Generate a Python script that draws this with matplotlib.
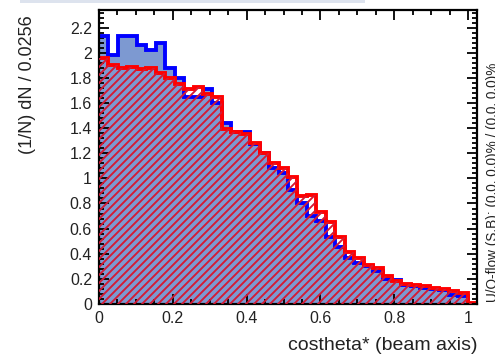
import numpy as np
import matplotlib
matplotlib.use("Agg")
import matplotlib.pyplot as plt
from matplotlib.patches import Rectangle
from matplotlib.lines import Line2D
from matplotlib.transforms import IdentityTransform

plt.rcParams['font.family'] = ['Liberation Sans', 'DejaVu Sans']

# 40 bins of width 0.0256 starting at 0
bin_width = 0.0256
edges = np.arange(41) * bin_width

signal = [2.13, 1.98, 2.13, 2.13, 2.06, 2.02, 2.08, 1.88, 1.80, 1.65,
          1.65, 1.71, 1.60, 1.44, 1.37, 1.37, 1.27, 1.20, 1.08, 1.04,
          0.91, 0.80, 0.70, 0.66, 0.53, 0.45, 0.37, 0.33, 0.30, 0.26,
          0.20, 0.19, 0.15, 0.14, 0.13, 0.12, 0.11, 0.07, 0.06, 0.003]

background = [1.96, 1.90, 1.88, 1.89, 1.87, 1.88, 1.84, 1.80, 1.75, 1.71,
              1.73, 1.67, 1.65, 1.39, 1.37, 1.35, 1.28, 1.20, 1.12, 1.08,
              1.01, 0.86, 0.87, 0.73, 0.65, 0.53, 0.41, 0.37, 0.31, 0.29,
              0.22, 0.18, 0.16, 0.15, 0.14, 0.13, 0.12, 0.10, 0.09, 0.005]

xlabel = 'costheta* (beam axis)'
ylabel = '(1/N) dN / %.4g' % bin_width
oflow_text = 'U/O-flow (S,B): (0.0, 0.0)% / (0.0, 0.0)%'

W, H = 495, 358
fig = plt.figure(figsize=(W / 100, H / 100), dpi=100)
ax = fig.add_axes([99 / W, 1 - 304 / H, 378 / W, 294 / H])

ax.set_xlim(0, 40 * bin_width)
ax.set_ylim(0, 2.34)

# signal: filled blue
ax.stairs(signal, edges, fill=True, facecolor='#7d99d1', linewidth=0)
# background: transparent area, hatched by hand (ROOT style /// hatch)
bg_area = ax.stairs(background, edges, fill=True, facecolor='none', linewidth=0)
for c in range(-400, 500, 8):
    hl = Line2D([0, W], [0 - c, W - c], transform=IdentityTransform(),
                color='#d41a34', linewidth=1.35)
    hl.set_clip_path(bg_area)
    fig.add_artist(hl)
# outlines
ax.stairs(signal, edges, color='#0000ff', linewidth=2.8, baseline=None, zorder=3)
ax.stairs(background, edges, color='#ff0000', linewidth=2.8, baseline=None, zorder=3)

ax.set_xticks([0, 0.2, 0.4, 0.6, 0.8, 1.0])
ax.set_xticklabels(['0', '0.2', '0.4', '0.6', '0.8', '1'])
ax.set_yticks(np.arange(0, 2.21, 0.2))
ax.set_yticklabels(['0', '0.2', '0.4', '0.6', '0.8', '1', '1.2', '1.4', '1.6', '1.8', '2', '2.2'])
ax.set_xticks(np.arange(0, 1.024, 0.05), minor=True)
ax.set_yticks(np.arange(0, 2.34, 0.04), minor=True)
ax.tick_params(which='both', direction='in', top=True, right=True, width=1.3,
               labelsize=11.5, colors='black', labelcolor='#222222')
ax.tick_params(which='major', length=7, pad=5)
ax.tick_params(which='minor', length=3.5)
for s in ax.spines.values():
    s.set_linewidth(1.6)
    s.set_zorder(4)

fig.text(477 / W, 1 - 346 / H, xlabel, ha='right', va='center', fontsize=14, color='#222222')
fig.text(27 / W, 1 - 15 / H, ylabel, ha='center', va='top', rotation=90, fontsize=13, color='#222222')
fig.text(493 / W, 1 - 302 / H, oflow_text, ha='center', va='bottom', rotation=90, fontsize=9.8, color='#222222')

# piece of a frame cut off at the top of the canvas
fig.patches.append(Rectangle((20 / W, 1 - 3 / H), 345 / W, 3 / H,
                             transform=fig.transFigure, facecolor='#dde3ee', edgecolor='none'))

fig.savefig('out.png', dpi=100)
